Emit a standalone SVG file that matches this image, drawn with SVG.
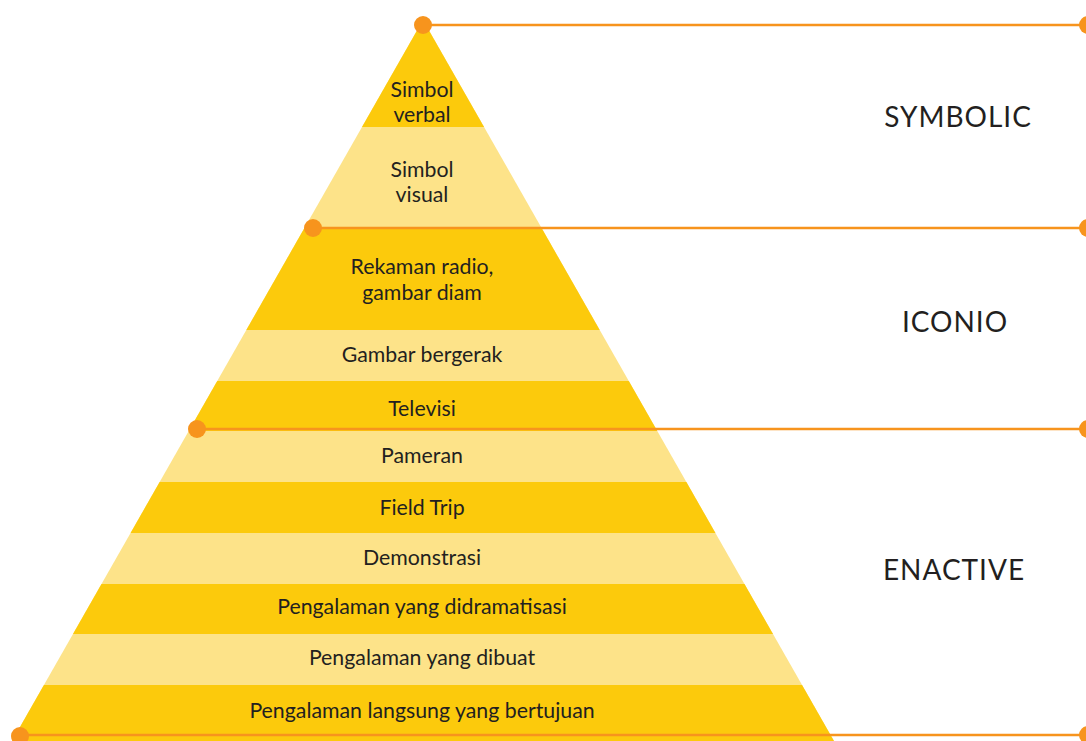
<svg xmlns="http://www.w3.org/2000/svg" width="1086" height="741" viewBox="0 0 1086 741">
  <defs>
    <style>
      .lbl { font-family: Lato, "Liberation Sans", sans-serif; font-size: 21.3px; fill: #231F20; text-anchor: middle; }
      .side { font-family: Lato, "Liberation Sans", sans-serif; font-size: 28px; fill: #231F20; text-anchor: middle; letter-spacing: 1px; }
      .dark { fill: #FCCA0C; }
      .light { fill: #FDE389; }
      .ln { stroke: #F7941D; stroke-width: 2.6; fill: none; }
      .dot { fill: #F7941D; }
    </style>
    <clipPath id="tri">
      <polygon points="423,20 834,741 12,741"/>
    </clipPath>
  </defs>
  <rect width="1086" height="741" fill="#FFFFFF"/>
  <g id="pyramid" clip-path="url(#tri)">
    <rect class="light" x="0" y="0" width="1086" height="741"/>
    <rect class="dark" x="0" y="0" width="1086" height="127"/>
    <rect class="dark" x="0" y="228" width="1086" height="102"/>
    <rect class="dark" x="0" y="381" width="1086" height="50"/>
    <rect class="dark" x="0" y="482" width="1086" height="51"/>
    <rect class="dark" x="0" y="584" width="1086" height="50"/>
    <rect class="dark" x="0" y="685" width="1086" height="56"/>
  </g>
  <g id="connectors">
    <line class="ln" x1="423" y1="25" x2="1086" y2="25"/>
    <line class="ln" x1="313" y1="228" x2="1086" y2="228"/>
    <line class="ln" x1="197" y1="429" x2="1086" y2="429"/>
    <line class="ln" x1="20" y1="735" x2="1086" y2="735"/>
    <circle class="dot" cx="423" cy="25" r="9"/>
    <circle class="dot" cx="313" cy="228" r="9"/>
    <circle class="dot" cx="197" cy="429" r="9"/>
    <circle class="dot" cx="20" cy="736" r="9"/>
    <circle class="dot" cx="1088" cy="25" r="9"/>
    <circle class="dot" cx="1088" cy="228" r="9"/>
    <circle class="dot" cx="1088" cy="429" r="9"/>
    <circle class="dot" cx="1088" cy="735" r="9"/>
  </g>
  <g id="n-simbol-verbal"><text class="lbl" x="422" y="97">Simbol</text><text class="lbl" x="422" y="122">verbal</text></g>
  <g id="n-simbol-visual"><text class="lbl" x="422" y="177">Simbol</text><text class="lbl" x="422" y="202">visual</text></g>
  <g id="n-rekaman"><text class="lbl" x="422" y="274">Rekaman radio,</text><text class="lbl" x="422" y="300">gambar diam</text></g>
  <g id="n-gambar-bergerak"><text class="lbl" x="422" y="362">Gambar bergerak</text></g>
  <g id="n-televisi"><text class="lbl" x="422" y="416">Televisi</text></g>
  <g id="n-pameran"><text class="lbl" x="422" y="463">Pameran</text></g>
  <g id="n-field-trip"><text class="lbl" x="422" y="515">Field Trip</text></g>
  <g id="n-demonstrasi"><text class="lbl" x="422" y="565">Demonstrasi</text></g>
  <g id="n-didramatisasi"><text class="lbl" x="422" y="614">Pengalaman yang didramatisasi</text></g>
  <g id="n-dibuat"><text class="lbl" x="422" y="665">Pengalaman yang dibuat</text></g>
  <g id="n-langsung"><text class="lbl" x="422" y="718">Pengalaman langsung yang bertujuan</text></g>
  <g id="n-symbolic"><text class="side" x="958" y="127">SYMBOLIC</text></g>
  <g id="n-iconio"><text class="side" x="955" y="332">ICONIO</text></g>
  <g id="n-enactive"><text class="side" x="954" y="580">ENACTIVE</text></g>
</svg>
